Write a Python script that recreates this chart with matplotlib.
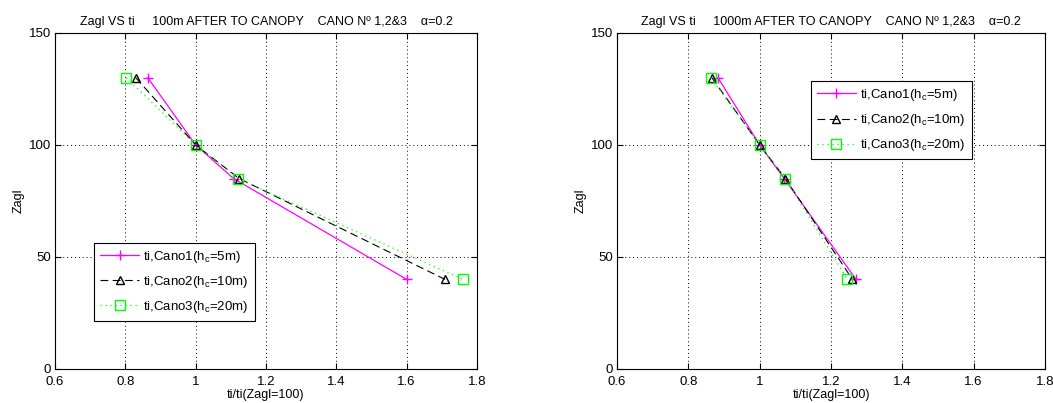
import matplotlib
matplotlib.use("Agg")
import matplotlib.pyplot as plt
import numpy as np

plt.rcParams['font.family'] = ['Liberation Sans', 'DejaVu Sans']
plt.rcParams['font.size'] = 9
plt.rcParams['mathtext.fontset'] = 'custom'
plt.rcParams['mathtext.rm'] = 'Liberation Sans'
plt.rcParams['mathtext.it'] = 'Liberation Sans'

# heights above ground (m)
zagl = [130, 100, 85, 40]

# ti normalised by ti at 100 m, 100 m after canopy
near_cano1 = [0.864, 1.0, 1.108, 1.600]
near_cano2 = [0.830, 1.0, 1.124, 1.709]
near_cano3 = [0.803, 1.0, 1.120, 1.760]

# same, 1000 m after canopy
far_cano1 = [0.883, 1.0, 1.069, 1.270]
far_cano2 = [0.866, 1.0, 1.072, 1.260]
far_cano3 = [0.863, 1.0, 1.072, 1.246]

labels = [r"ti,Cano1(h$_{\rm c}$=5m)",
          r"ti,Cano2(h$_{\rm c}$=10m)",
          r"ti,Cano3(h$_{\rm c}$=20m)"]

titles = ["Zagl VS ti     100m AFTER TO CANOPY    CANO N\u00ba 1,2&3    \u03b1=0.2",
          "Zagl VS ti     1000m AFTER TO CANOPY    CANO N\u00ba 1,2&3    \u03b1=0.2"]

xticks = [0.6, 0.8, 1.0, 1.2, 1.4, 1.6, 1.8]
xticklabels = ["0.6", "0.8", "1", "1.2", "1.4", "1.6", "1.8"]
yticks = [0, 50, 100, 150]


def draw(ax, c1, c2, c3, title, legpos):
    ax.plot(c1, zagl, color='#ff00ff', linestyle='-', marker='+', markersize=7,
            linewidth=0.9, label=labels[0])
    ax.plot(c2, zagl, color='black', linestyle=(0, (7, 4)), marker='^', markersize=6,
            markerfacecolor='none', linewidth=0.8, label=labels[1])
    ax.plot(c3, zagl, color='#00ff00', linestyle=(0, (1, 3)), marker='s', markersize=6.5,
            markerfacecolor='none', linewidth=0.9, label=labels[2])
    ax.set_xlim(0.6, 1.8)
    ax.set_ylim(0, 150)
    ax.set_xticks(xticks)
    ax.set_xticklabels(xticklabels)
    ax.set_yticks(yticks)
    ax.grid(True, color='black', linestyle=(0, (1, 3)), linewidth=0.7)
    ax.tick_params(direction='in', top=True, right=True, length=4, pad=3,
                   labelsize=9.5)
    ax.tick_params(axis='x', pad=5)
    ax.set_title(title, fontsize=9, pad=6)
    ax.set_xlabel("ti/ti(Zagl=100)", labelpad=1)
    ax.set_ylabel("Zagl", labelpad=3)
    leg = ax.legend(loc='lower left', bbox_to_anchor=legpos, fancybox=False,
                    edgecolor='black', framealpha=1, handlelength=3.0,
                    borderpad=0.45, labelspacing=0.7, handletextpad=0.3,
                    borderaxespad=0, fontsize=9.5)
    leg.get_frame().set_linewidth(0.8)


fig = plt.figure(figsize=(10.53, 4.03), dpi=100)
ax1 = fig.add_axes([0.0522, 0.0844, 0.4008, 0.8338])
ax2 = fig.add_axes([0.586, 0.0844, 0.4064, 0.8338])

draw(ax1, near_cano1, near_cano2, near_cano3, titles[0], (0.092, 0.143))
draw(ax2, far_cano1, far_cano2, far_cano3, titles[1], (0.4526, 0.624))

fig.savefig("out.png", dpi=100)
